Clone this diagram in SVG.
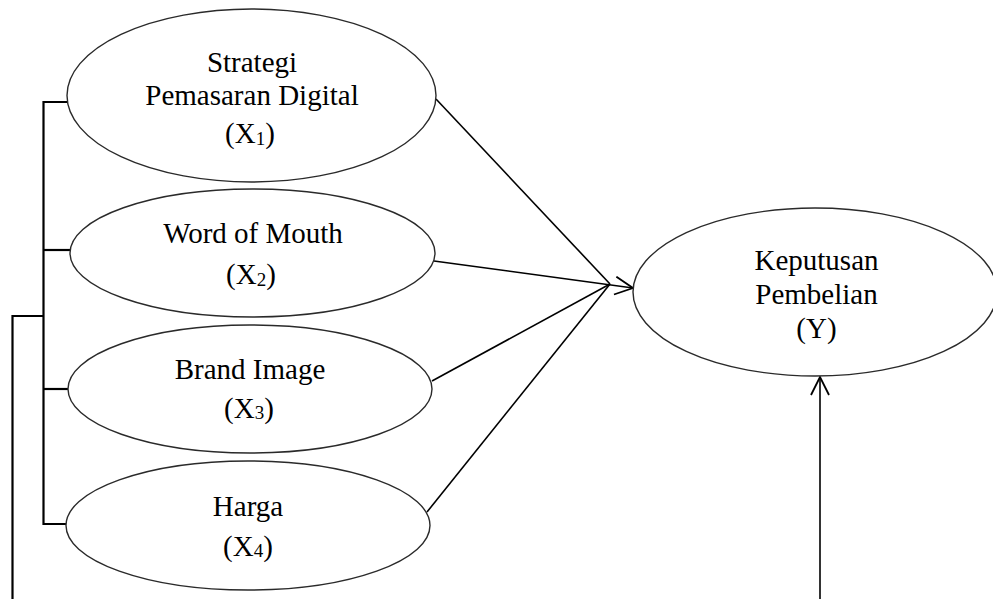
<svg xmlns="http://www.w3.org/2000/svg" width="993" height="599" viewBox="0 0 993 599">
<style>
  .node ellipse { fill: #ffffff; stroke: #2a2a2a; stroke-width: 1.4; }
  .node text { font-family: "Liberation Serif", "Times New Roman", serif; font-size: 29px; fill: #000; text-anchor: middle; }
  .sub { font-size: 19px; }
  .bracket { fill: none; stroke: #000; stroke-width: 2.2; }
  .edge { fill: none; stroke: #000; stroke-width: 1.6; }
</style>
<defs>
  <marker id="arrow" viewBox="0 0 20 20" refX="19" refY="10" markerWidth="20" markerHeight="20" markerUnits="userSpaceOnUse" orient="auto">
    <path d="M1,1 L19,10 L1,19" fill="none" stroke="#000" stroke-width="1.8"/>
  </marker>
</defs>
<rect width="993" height="599" fill="#ffffff"/>
<g id="connectors">
  <polyline class="bracket" points="67,102 43.5,102 43.5,524 66,524"/>
  <line class="bracket" x1="43.5" y1="250" x2="70" y2="250"/>
  <line class="bracket" x1="43.5" y1="389" x2="68" y2="389"/>
  <polyline class="bracket" points="43.5,316 12.5,316 12.5,599"/>
  <line class="edge" x1="436" y1="99" x2="610" y2="284"/>
  <line class="edge" x1="432" y1="381" x2="610" y2="284"/>
  <line class="edge" x1="427" y1="512" x2="610" y2="284"/>
  <line class="edge" x1="434" y1="261" x2="633" y2="288" marker-end="url(#arrow)"/>
  <line class="edge" x1="820" y1="599" x2="820" y2="377" marker-end="url(#arrow)"/>
</g>
<g id="x1" class="node">
  <ellipse cx="251.5" cy="95.5" rx="184.5" ry="86.5"/>
  <text x="252" y="72">Strategi</text>
  <text x="252" y="105">Pemasaran Digital</text>
  <text x="250" y="143">(X<tspan class="sub" dy="2">1</tspan><tspan dy="-2">)</tspan></text>
</g>
<g id="x2" class="node">
  <ellipse cx="252.5" cy="253" rx="182.5" ry="64"/>
  <text x="253" y="243">Word of Mouth</text>
  <text x="251" y="284">(X<tspan class="sub" dy="2">2</tspan><tspan dy="-2">)</tspan></text>
</g>
<g id="x3" class="node">
  <ellipse cx="250" cy="389" rx="182" ry="64"/>
  <text x="250" y="379">Brand Image</text>
  <text x="249" y="418">(X<tspan class="sub" dy="1">3</tspan><tspan dy="-1">)</tspan></text>
</g>
<g id="x4" class="node">
  <ellipse cx="248" cy="525.5" rx="182" ry="64.5"/>
  <text x="248" y="516">Harga</text>
  <text x="248" y="556">(X<tspan class="sub" dy="1">4</tspan><tspan dy="-1">)</tspan></text>
</g>
<g id="y" class="node">
  <ellipse cx="815" cy="292" rx="182" ry="84"/>
  <text x="816.5" y="270">Keputusan</text>
  <text x="816.5" y="304">Pembelian</text>
  <text x="816.5" y="338">(Y)</text>
</g>
</svg>
